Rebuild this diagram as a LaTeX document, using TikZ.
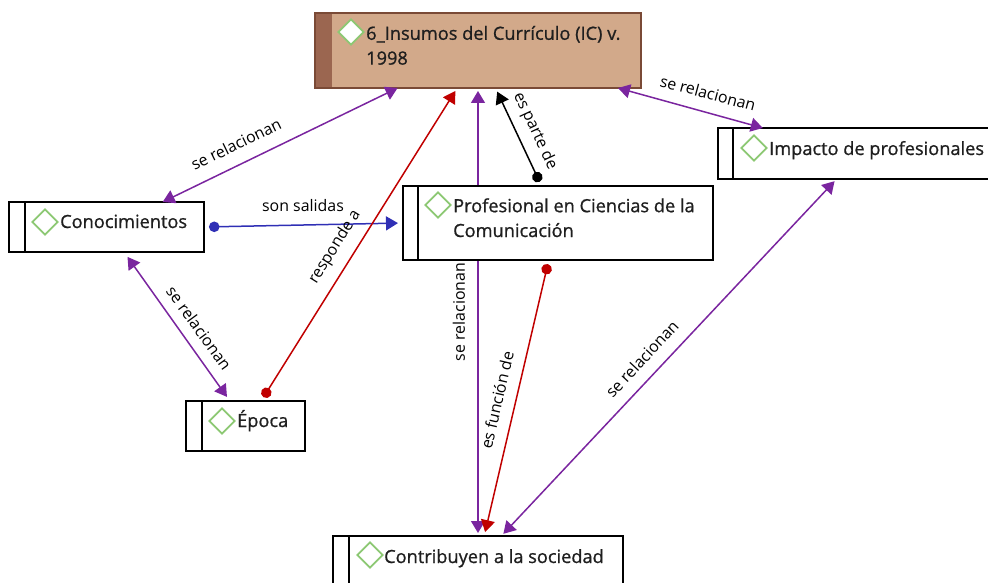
\documentclass[tikz,border=0pt]{standalone}
\usepackage{fontspec}
\setmainfont{Open Sans}
\newfontfamily\titlefont[FakeBold=0.9]{Open Sans}
\usetikzlibrary{arrows.meta}
\usetikzlibrary{shapes.geometric}
\usetikzlibrary{backgrounds}
\definecolor{relpurple}{HTML}{7A259F}
\definecolor{resred}{HTML}{C00000}
\definecolor{salblue}{HTML}{2F2FB5}
\definecolor{marksgreen}{HTML}{8CC873}
\definecolor{tantop}{HTML}{D2A98A}
\definecolor{tanside}{HTML}{9B6650}
\definecolor{tanline}{HTML}{7A4A36}
\tikzset{
  conceptbox/.style={draw=black, fill=white, line width=1.2pt, outer sep=0pt, inner sep=0pt},
  conceptmark/.style={diamond, draw=marksgreen, fill=white, line width=1.9pt, minimum width=26pt, minimum height=26pt, inner sep=0pt},
  concepttext/.style={anchor=base west, inner sep=0pt, font=\titlefont\fontsize{18.2}{24.8}\selectfont, text=black!88, align=left},
  linklabel/.style={inner sep=0pt, font=\fontsize{15.9}{18}\selectfont, text=black},
  relboth/.style={relpurple, line width=1.5pt, {Triangle[length=12pt,width=14pt]}-{Triangle[length=12pt,width=14pt]}},
  dotlink/.style={line width=1.5pt, {Circle[length=10.5pt,width=10.5pt]}-{Triangle[length=12pt,width=14pt]}}
}
\begin{document}
\begin{tikzpicture}[x=1pt,y=-1pt]
\useasboundingbox (0,0) rectangle (988,583);

% boxes
\node[conceptbox, fill=tantop, draw=tanline, minimum width=326pt, minimum height=75pt] (insumos) at (478,50.5) {};
\fill[tanside] (insumos.north west) rectangle ([xshift=17pt]insumos.south west);
\draw[tanline, line width=1.2pt] (insumos.north west) rectangle (insumos.south east);

\node[conceptbox, minimum width=280pt, minimum height=51pt] (impacto) at (858,153.5) {};
\node[conceptbox, minimum width=195pt, minimum height=50pt] (conocimientos) at (106.5,227) {};
\node[conceptbox, minimum width=310pt, minimum height=74pt] (profesional) at (558,223) {};
\node[conceptbox, minimum width=119pt, minimum height=50pt] (epoca) at (245.5,426) {};
\node[conceptbox, minimum width=290pt, minimum height=50pt] (contribuyen) at (478,561) {};

\draw[line width=1.2pt] ([xshift=15pt]impacto.north west) -- ([xshift=15pt]impacto.south west);
\draw[line width=1.2pt] ([xshift=16pt]conocimientos.north west) -- ([xshift=16pt]conocimientos.south west);
\draw[line width=1.2pt] ([xshift=15pt]profesional.north west) -- ([xshift=15pt]profesional.south west);
\draw[line width=1.2pt] ([xshift=16pt]epoca.north west) -- ([xshift=16pt]epoca.south west);
\draw[line width=1.2pt] ([xshift=16pt]contribuyen.north west) -- ([xshift=16pt]contribuyen.south west);

% marks and titles
\node[conceptmark] (insumosmark) at (351,32) {};
\node[conceptmark] (impactomark) at (754,148) {};
\node[conceptmark] (conocimientosmark) at (45,222) {};
\node[conceptmark] (profesionalmark) at (438,205) {};
\node[conceptmark] (epocamark) at (222,421) {};
\node[conceptmark] (contribuyenmark) at (370,555) {};

\node[concepttext] (insumostext) at (366,64.6) {6\_Insumos del Currículo (IC) v.\\1998};
\node[concepttext] (impactotext) at (769,155) {Impacto de profesionales};
\node[concepttext] (conocimientostext) at (60,228) {Conocimientos};
\node[concepttext] (profesionaltext) at (453,237) {Profesional en Ciencias de la\\Comunicación};
\node[concepttext] (epocatext) at (237,427) {Época};
\node[concepttext] (contribuyentext) at (384,563) {Contribuyen a la sociedad};

% connectors
\begin{pgfonlayer}{background}
\draw[relboth, shorten <=3pt, shorten >=3pt] (insumos.south) -- (contribuyen.north);
\end{pgfonlayer}

\draw[relboth] (conocimientos.24.5) -- (insumos.205.4);
\draw[relboth, shorten <=6pt, shorten >=5pt] (conocimientos.-55.9) -- (epoca.122);
\draw[relboth] (insumos.-15.6) -- (impacto.165.1);
\draw[relboth, shorten <=3pt, shorten >=3pt] (impacto.-130.8) -- (contribuyen.47.4);

\draw[dotlink, salblue, shorten <=5pt, shorten >=5pt] (conocimientos.0.5) -- (profesional.180.4);
\draw[dotlink, resred, shorten <=4.5pt, shorten >=3.5pt] (epoca.58.2) -- (insumos.-119.25);
\draw[dotlink, black, shorten <=4.6pt, shorten >=4pt] (profesional.114.7) -- (insumos.-65.2);
\draw[dotlink, resred, shorten <=4.2pt, shorten >=4pt] (profesional.-104) -- (contribuyen.76.5);

% labels
\node[linklabel, rotate=26] (labelA) at (236,144) {se relacionan};
\node[linklabel, rotate=-54] (labelB) at (199,328) {se relacionan};
\node[linklabel] (labelC) at (303,206) {son salidas};
\node[linklabel, rotate=58] (labelD) at (335,247) {responde a};
\node[linklabel, rotate=-65] (labelE) at (535,131) {es parte de};
\node[linklabel, rotate=-15] (labelF) at (708,93) {se relacionan};
\node[linklabel, rotate=90] (labelG) at (459,312) {se relacionan};
\node[linklabel, rotate=77] (labelH) at (497,400) {es función de};
\node[linklabel, rotate=47] (labelI) at (642,359) {se relacionan};

\end{tikzpicture}
\end{document}
